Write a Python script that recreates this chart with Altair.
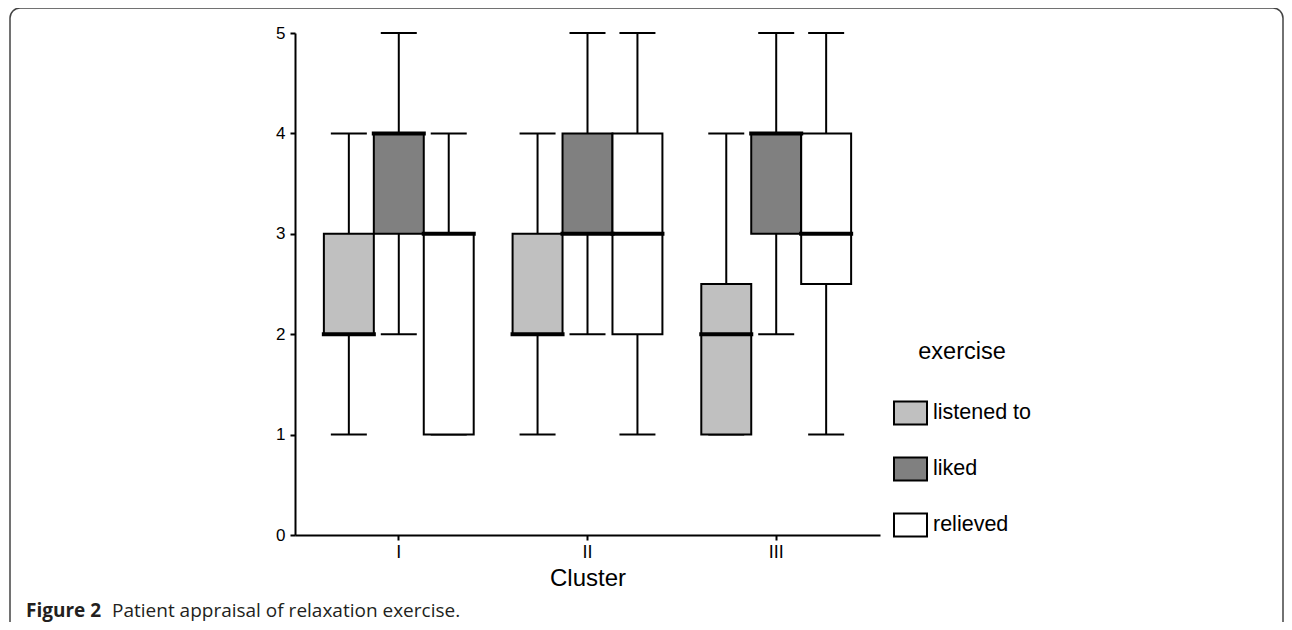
import altair as alt
import pandas as pd

clusters = ["I", "II", "III"]
exercises = ["listened to", "liked", "relieved"]
# per cluster (I, II, III) x exercise (listened to, liked, relieved)
low = [1, 2, 1, 1, 2, 1, 1, 2, 1]
q1 = [2, 3, 1, 2, 3, 2, 1, 3, 2.5]
median = [2, 4, 3, 2, 3, 3, 2, 4, 3]
q3 = [3, 4, 3, 3, 4, 4, 2.5, 4, 4]
high = [4, 5, 4, 4, 5, 5, 4, 5, 5]
colors = ["#c0c0c0", "#808080", "#ffffff"]
y_ticks = [0, 1, 2, 3, 4, 5]

rows = []
i = 0
for c in clusters:
    for e in exercises:
        rows.append(dict(cluster=c, exercise=e, low=low[i], q1=q1[i],
                         median=median[i], q3=q3[i], high=high[i]))
        i += 1
df = pd.DataFrame(rows)

FONT = "Liberation Sans"

x_axis = alt.Axis(title="Cluster", labelAngle=0, grid=False, domainColor="black",
                  domainWidth=2, tickColor="black", tickWidth=2, tickSize=5,
                  labelFont=FONT, labelFontSize=18, labelColor="black", labelPadding=3,
                  titleFont=FONT, titleFontSize=24, titleFontWeight="normal",
                  titleColor="black", titlePadding=5)
y_axis = alt.Axis(title=None, values=y_ticks, grid=False, domainColor="black",
                  domainWidth=2, tickColor="black", tickWidth=2, tickSize=5,
                  labelFont=FONT, labelFontSize=17, labelColor="black", labelPadding=5)
y_scale = alt.Scale(domain=[0, 5], nice=False, zero=False)

X = alt.X("cluster:N", sort=clusters, axis=x_axis,
          scale=alt.Scale(paddingInner=0.206, paddingOuter=0.153))
XO = alt.XOffset("exercise:N", sort=exercises,
                 scale=alt.Scale(paddingInner=0, paddingOuter=0))


def Y(field):
    return alt.Y(f"{field}:Q", scale=y_scale, axis=y_axis, title=None)


base = alt.Chart(df)

whiskers = base.mark_rule(color="black", strokeWidth=2, opacity=1).encode(
    x=X, xOffset=XO, y=Y("low"), y2="high:Q")
cap_low = base.mark_tick(color="black", thickness=2, size=36, opacity=1).encode(
    x=X, xOffset=XO, y=Y("low"))
cap_high = base.mark_tick(color="black", thickness=2, size=36, opacity=1).encode(
    x=X, xOffset=XO, y=Y("high"))
boxes = base.mark_bar(stroke="black", strokeWidth=2, opacity=1).encode(
    x=X, xOffset=XO, y=Y("q1"), y2="q3:Q",
    fill=alt.Fill("exercise:N", sort=exercises,
                  scale=alt.Scale(domain=exercises, range=colors),
                  legend=alt.Legend(title="exercise", orient="none", legendX=598, legendY=307,
                                    direction="vertical", padding=0,
                                    titleFont=FONT, titleFontSize=23.5, titleFontWeight="normal",
                                    titleColor="black", titleAnchor="middle", titleAlign="center",
                                    titlePadding=32,
                                    labelFont=FONT, labelFontSize=21.5, labelColor="black",
                                    labelOffset=5,
                                    symbolType="M-1,-0.7L1,-0.7L1,0.7L-1,0.7Z", symbolSize=1089,
                                    symbolStrokeColor="black", symbolStrokeWidth=2,
                                    symbolOpacity=1, rowPadding=22)))
medians = base.mark_tick(color="black", thickness=4, size=54, opacity=1).encode(
    x=X, xOffset=XO, y=Y("median"))

one = pd.DataFrame({"k": [0]})
border = alt.Chart(one).mark_rect(fill="transparent", stroke="#444444", strokeWidth=1.5,
                                  cornerRadius=10).encode(
    x=alt.value(-285), x2=alt.value(988), y=alt.value(-25), y2=alt.value(700))
cap1 = alt.Chart(one).mark_text(align="left", baseline="alphabetic", font="Open Sans",
                                fontSize=19, fontWeight="bold", color="#231f20",
                                text="Figure 2").encode(x=alt.value(-269), y=alt.value(584))
cap2 = alt.Chart(one).mark_text(align="left", baseline="alphabetic", font="Open Sans",
                                fontSize=19, fontWeight="normal", color="#231f20",
                                text="Patient appraisal of relaxation exercise.").encode(
    x=alt.value(-183), y=alt.value(584))

chart = alt.layer(whiskers, cap_low, cap_high, boxes, medians, border, cap1, cap2).properties(
    width=585, height=502,
    autosize=alt.AutoSizeParams(type="none"),
    padding={"left": 287, "top": 25, "right": 404, "bottom": 87},
).configure_view(stroke=None)

chart.save("out.html", embed_options={"renderer": "svg", "actions": False})
